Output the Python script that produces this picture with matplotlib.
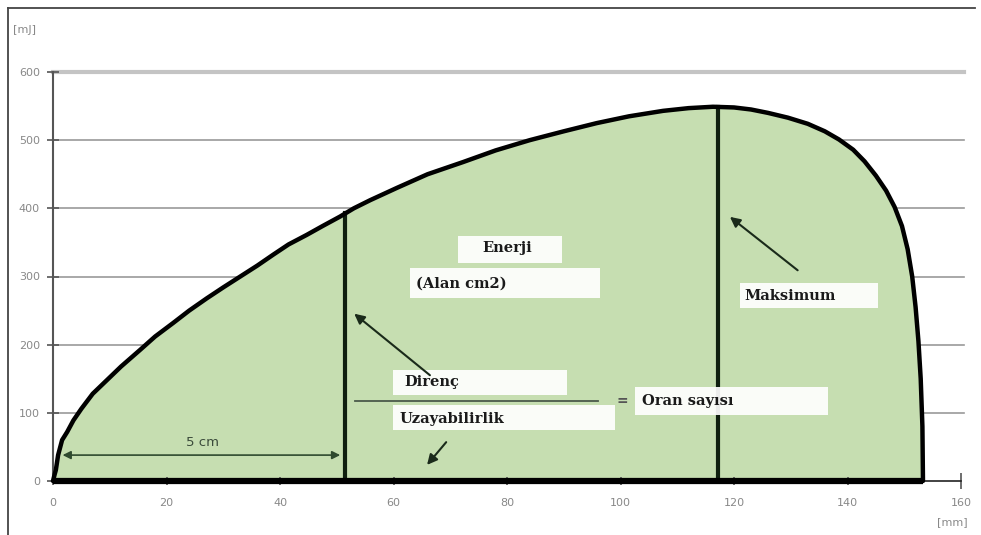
import matplotlib
matplotlib.use("Agg")
import matplotlib.pyplot as plt
import numpy as np
from matplotlib.lines import Line2D
from matplotlib.patches import Rectangle

# curve (x in mm, y in mJ)
x_curve = [0, 0.3, 0.5, 0.9, 1.6, 2.5, 3.6, 5.0, 7.0, 9.5, 12.0, 15.3, 18.0, 21.2,
           24.0, 27.1, 30.0, 33.0, 36.0, 38.8, 41.5, 44.7, 47.5, 50.6, 53.0, 55.9,
           60.6, 66.0, 72.3, 78.0, 84.0, 90.0, 95.8, 101.5, 107.5, 112.0, 116.3,
           120.0, 123.0, 126.0, 129.5, 133.0, 136.0, 138.5, 141.0, 143.0, 145.0,
           146.8, 148.3, 149.6, 150.6, 151.4, 152.0, 152.5, 152.9, 153.2, 153.3]
y_curve = [0, 10, 16, 38, 60, 72, 89, 106, 128, 148, 168, 192, 212, 232,
           250, 268, 284, 300, 316, 332, 347, 361, 374, 388, 400, 412,
           430, 450, 468, 485, 500, 513, 525, 535, 543, 547, 549,
           548, 545, 540, 533, 524, 513, 501, 486, 469, 448,
           426, 402, 374, 340, 300, 255, 205, 150, 80, 0]

x_ticks = [0, 20, 40, 60, 80, 100, 120, 140, 160]
y_ticks = [0, 100, 200, 300, 400, 500, 600]

x_direnc = 51.5
x_maks = 117.2

FILL = "#c6deb1"
DARK = "#0f1f0f"
SERIF = "DejaVu Serif"

fig = plt.figure(figsize=(9.81, 5.35), dpi=100)
fig.patch.set_facecolor("white")
ax = fig.add_axes([53 / 981, 54 / 535, 908 / 981, 409 / 535])
ax.set_xlim(0, 160)
ax.set_ylim(0, 600)

# outer frame (left + top only)
fig.add_artist(Line2D([8 / 981, 8 / 981], [0, 527 / 535], color="#444444", lw=1.3))
fig.add_artist(Line2D([8 / 981, 975 / 981], [527 / 535, 527 / 535], color="#444444", lw=1.3))

# grid
for yt in y_ticks[1:]:
    if yt == 600:
        ax.axhline(yt, xmin=0, xmax=1.003, color="#c4c4c4", lw=3, zorder=0, clip_on=False)
    else:
        ax.axhline(yt, xmin=0, xmax=1.003, color="#9a9a9a", lw=1.2, zorder=0, clip_on=False)

# area + outline
ax.fill_between(x_curve, y_curve, 0, color=FILL, zorder=1)
ax.plot(x_curve, y_curve, color="black", lw=3.2, zorder=4, solid_capstyle="round",
        solid_joinstyle="round", clip_on=False)
ax.plot([0, x_curve[-1]], [0, 0], color="black", lw=4.5, zorder=4, clip_on=False,
        solid_capstyle="butt")

# vertical lines up to the curve
peak = int(np.argmax(y_curve))
h_direnc = np.interp(x_direnc, x_curve[:peak + 1], y_curve[:peak + 1])
h_maks = np.interp(x_maks, x_curve[:peak + 3], y_curve[:peak + 3])
ax.plot([x_direnc, x_direnc], [0, h_direnc], color=DARK, lw=3, zorder=3)
ax.plot([x_maks, x_maks], [0, h_maks], color=DARK, lw=3, zorder=3)

# spines / ticks
for s in ("top", "right"):
    ax.spines[s].set_visible(False)
ax.spines["left"].set_color("#555555")
ax.spines["left"].set_linewidth(1.5)
ax.spines["bottom"].set_color("#222222")
ax.spines["bottom"].set_linewidth(1.2)
ax.set_xticks(x_ticks)
ax.set_yticks(y_ticks)
ax.tick_params(axis="y", direction="inout", length=9, width=1.2, colors="#555555",
               labelcolor="#888888", labelsize=8, pad=5)
ax.tick_params(axis="x", direction="inout", length=6, width=1.2, colors="#555555",
               labelcolor="#888888", labelsize=8, pad=9)
ax.xaxis.get_major_ticks()[-1].tick1line.set_markersize(12)
ax.xaxis.get_major_ticks()[-1].tick1line.set_color("#222222")

ax.text(-5.1, 662, "[mJ]", fontsize=8, color="#888888", ha="center", va="center",
        clip_on=False)
ax.text(158.4, -60, "[mm]", fontsize=8, color="#888888", ha="center", va="center",
        clip_on=False)


def label_box(x0, x1, y0, y1, text, tx, ty, ha="left"):
    ax.add_patch(Rectangle((x0, y0), x1 - x0, y1 - y0, facecolor="white",
                           edgecolor="none", alpha=0.92, zorder=5))
    ax.text(tx, ty, text, family=SERIF, fontweight="bold", fontsize=10.5,
            color="#1a1a1a", ha=ha, va="center", zorder=6)


label_box(71.4, 89.7, 320, 360, "Enerji", 80.0, 342, ha="center")
label_box(62.9, 96.4, 268, 312, "(Alan cm2)", 64.0, 290)
label_box(59.9, 90.6, 126, 163, "Direnç", 62.0, 145)
label_box(59.9, 99.0, 75, 111, "Uzayabilirlik", 61.1, 91)
label_box(102.6, 136.6, 97, 138, "Oran sayısı", 103.8, 117.4)
label_box(121.0, 145.4, 254, 290, "Maksimum", 121.9, 271)

# ratio line and "="
ax.plot([53.2, 96.0], [117.4, 117.4], color="#4a5a4a", lw=1.3, zorder=7)
ax.text(100.3, 118, "=", fontsize=10, color="#555555", ha="center", va="center",
        fontweight="bold", zorder=7)

# arrows
arrow_kw = dict(arrowstyle="-|>", color="#1a2a1a", lw=1.5, mutation_scale=15)
ax.annotate("", xy=(52.7, 248), xytext=(66.8, 152.6), arrowprops=arrow_kw, zorder=7)
ax.annotate("", xy=(118.9, 390), xytext=(131.6, 306.6), arrowprops=arrow_kw, zorder=7)
ax.annotate("", xy=(65.6, 20.5), xytext=(69.6, 60.1), arrowprops=arrow_kw, zorder=7)
ax.annotate("", xy=(51.1, 38), xytext=(1.2, 38),
            arrowprops=dict(arrowstyle="<|-|>", color="#2f4a2f", lw=1.2,
                            mutation_scale=12), zorder=7)
ax.text(26.4, 56, "5 cm", fontsize=9.5, color="#3a4a3a", ha="center", va="center", zorder=7)

fig.savefig("out.png", dpi=100, facecolor="white")
